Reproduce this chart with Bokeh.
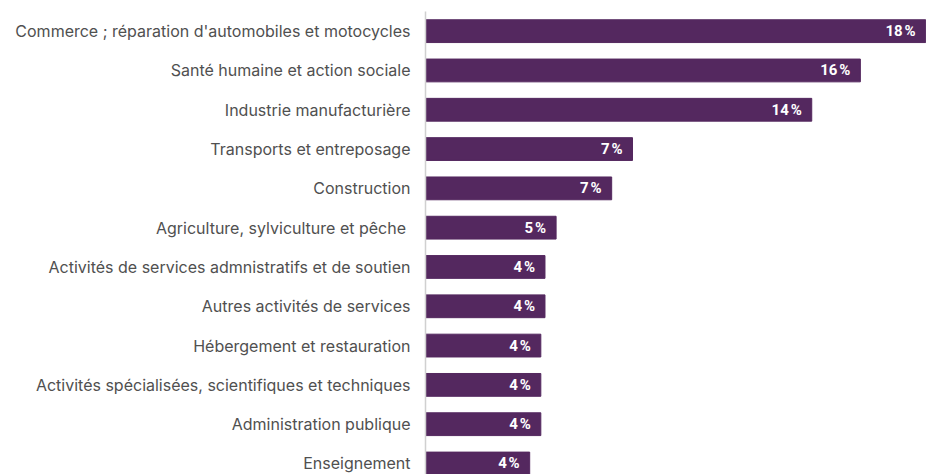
from bokeh.plotting import figure
from bokeh.models import Range1d, FixedTicker, ColumnDataSource, LabelSet
from bokeh.core.properties import value
from bokeh.embed import file_html
from bokeh.resources import INLINE

categories = [
    "Commerce ; réparation d'automobiles et motocycles",
    "Santé humaine et action sociale",
    "Industrie manufacturière",
    "Transports et entreposage",
    "Construction",
    "Agriculture, sylviculture et pêche ",
    "Activités de services admnistratifs et de soutien",
    "Autres activités de services",
    "Hébergement et restauration",
    "Activités spécialisées, scientifiques et techniques",
    "Administration publique",
    "Enseignement",
]
values = [18.0, 15.65, 13.9, 7.45, 6.7, 4.7, 4.3, 4.3, 4.15, 4.15, 4.15, 3.75]
labels = ["18\u202f%", "16\u202f%", "14\u202f%", "7\u202f%", "7\u202f%", "5\u202f%",
          "4\u202f%", "4\u202f%", "4\u202f%", "4\u202f%", "4\u202f%", "4\u202f%"]

pos = list(range(len(categories)))
src = ColumnDataSource(dict(y=pos, v=values, lab=labels))

p = figure(width=926, height=474, output_backend="svg", toolbar_location=None,
           x_range=Range1d(0, 18.03), y_range=Range1d(11.28, -0.5),
           min_border_left=425, min_border_right=0, min_border_top=11, min_border_bottom=0)
p.hbar(y="y", right="v", left=0, height=0.58, source=src, color="#54285f")

lbl = LabelSet(x="v", y="y", text="lab", source=src, x_offset=-10,
               text_align="right", text_baseline="middle", text_color="white",
               text_font=value("'Liberation Sans Narrow', Roboto"), text_font_style="bold",
               text_font_size="15px")
p.add_layout(lbl)

p.xaxis.visible = False
p.yaxis.ticker = FixedTicker(ticks=pos)
p.yaxis.major_label_overrides = {i: c for i, c in zip(pos, categories)}
p.yaxis.major_tick_line_color = None
p.yaxis.minor_tick_line_color = None
p.yaxis.major_tick_out = 0
p.yaxis.major_tick_in = 0
p.yaxis.axis_line_color = "#d0d0d0"
p.yaxis.axis_line_width = 1.5
p.yaxis.major_label_standoff = 15
p.yaxis.major_label_text_font = "Inter"
p.yaxis.major_label_text_font_size = "16px"
p.yaxis.major_label_text_color = "#505050"
p.xgrid.visible = False
p.ygrid.visible = False
p.outline_line_color = None

open("out.html", "w").write(file_html(p, INLINE))
